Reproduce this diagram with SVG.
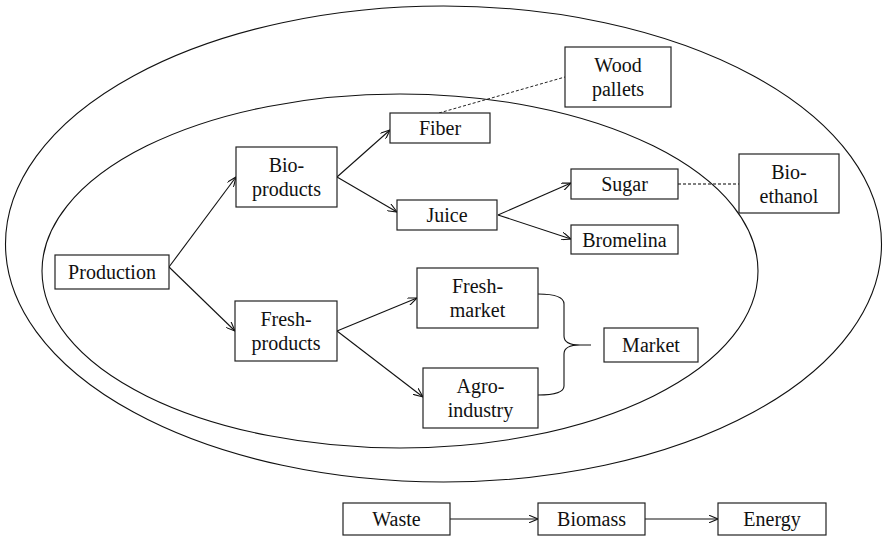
<svg xmlns="http://www.w3.org/2000/svg" width="883" height="537" viewBox="0 0 883 537">
<defs>
<style>
.box{fill:#fff;stroke:#222;stroke-width:1.2}
.t{font-size:20px;fill:#111;text-anchor:middle}
.ln{fill:none;stroke:#111;stroke-width:1.1}
.ds{fill:none;stroke:#222;stroke-width:1;stroke-dasharray:3,2}
.el{fill:none;stroke:#111;stroke-width:1.1}
</style>
<marker id="ah" viewBox="0 0 10 8" refX="9.5" refY="4" markerWidth="10" markerHeight="8" markerUnits="userSpaceOnUse" orient="auto">
<path d="M0,0 L9.5,4 L0,8" fill="none" stroke="#111" stroke-width="1.1"/>
</marker>
</defs>
<rect width="883" height="537" fill="#fff"/>
<ellipse class="el" cx="443.5" cy="244" rx="438" ry="238"/>
<ellipse class="el" cx="400" cy="271" rx="358" ry="177"/>
<g id="connectors">
<line class="ln" x1="169" y1="267" x2="236" y2="177" marker-end="url(#ah)"/>
<line class="ln" x1="169" y1="267" x2="235" y2="331" marker-end="url(#ah)"/>
<line class="ln" x1="337" y1="177" x2="390" y2="130" marker-end="url(#ah)"/>
<line class="ln" x1="337" y1="177" x2="397" y2="212" marker-end="url(#ah)"/>
<line class="ln" x1="498" y1="215" x2="571" y2="183" marker-end="url(#ah)"/>
<line class="ln" x1="498" y1="215" x2="571" y2="239" marker-end="url(#ah)"/>
<line class="ln" x1="337" y1="331" x2="417" y2="298" marker-end="url(#ah)"/>
<line class="ln" x1="337" y1="331" x2="423" y2="397" marker-end="url(#ah)"/>
<line class="ln" x1="450" y1="519" x2="538" y2="519" marker-end="url(#ah)"/>
<line class="ln" x1="645" y1="519" x2="718" y2="519" marker-end="url(#ah)"/>
<line class="ds" x1="439" y1="113" x2="565" y2="77"/>
<line class="ds" x1="678" y1="184" x2="739" y2="184" style="stroke:#555;stroke-width:1.6"/>
<path class="ln" d="M538,294 Q564,294 564,304 L564,336 Q564,345 580,345 L591,345 M580,345 Q564,345 564,354 L564,386 Q564,395 538,395"/>
</g>
<g font-family="'Liberation Serif', 'Times New Roman', 'DejaVu Serif', serif">
<g id="wood-pallets"><rect class="box" x="565" y="47" width="106" height="60"/><text class="t" x="618" y="72">Wood</text><text class="t" x="618" y="96">pallets</text></g>
<g id="fiber"><rect class="box" x="390" y="113" width="100" height="30"/><text class="t" x="440" y="135">Fiber</text></g>
<g id="bio-products"><rect class="box" x="236" y="147" width="101" height="60"/><text class="t" x="286.5" y="172">Bio-</text><text class="t" x="286.5" y="196">products</text></g>
<g id="bio-ethanol"><rect class="box" x="739" y="154" width="100" height="59"/><text class="t" x="789" y="179">Bio-</text><text class="t" x="789" y="203">ethanol</text></g>
<g id="sugar"><rect class="box" x="571" y="169" width="107" height="30"/><text class="t" x="624.5" y="191">Sugar</text></g>
<g id="juice"><rect class="box" x="397" y="200" width="100" height="30"/><text class="t" x="447" y="222">Juice</text></g>
<g id="bromelina"><rect class="box" x="571" y="225" width="107" height="29"/><text class="t" x="624.5" y="246.5">Bromelina</text></g>
<g id="production"><rect class="box" x="55" y="255" width="114" height="34"/><text class="t" x="112" y="279">Production</text></g>
<g id="fresh-market"><rect class="box" x="417" y="268" width="121" height="60"/><text class="t" x="477.5" y="293">Fresh-</text><text class="t" x="477.5" y="317">market</text></g>
<g id="fresh-products"><rect class="box" x="235" y="301" width="102" height="60"/><text class="t" x="286" y="326">Fresh-</text><text class="t" x="286" y="350">products</text></g>
<g id="market"><rect class="box" x="604" y="328" width="94" height="34"/><text class="t" x="651" y="352">Market</text></g>
<g id="agro-industry"><rect class="box" x="423" y="368" width="115" height="60"/><text class="t" x="480.5" y="393">Agro-</text><text class="t" x="480.5" y="417">industry</text></g>
<g id="waste"><rect class="box" x="343" y="503" width="107" height="32"/><text class="t" x="396.5" y="526">Waste</text></g>
<g id="biomass"><rect class="box" x="538" y="503" width="107" height="32"/><text class="t" x="591.5" y="526">Biomass</text></g>
<g id="energy"><rect class="box" x="718" y="503" width="108" height="32"/><text class="t" x="772" y="526">Energy</text></g>
</g>
</svg>
